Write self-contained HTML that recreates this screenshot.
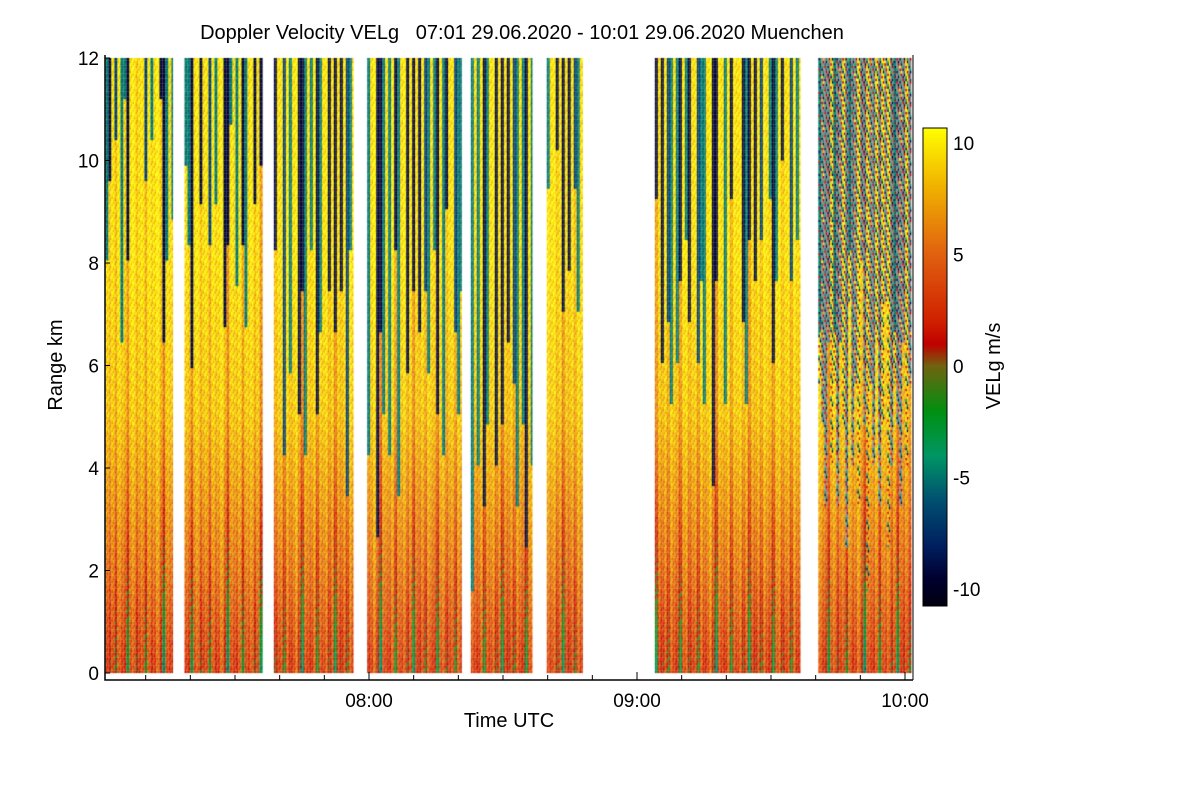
<!DOCTYPE html>
<html><head><meta charset="utf-8"><style>
body{margin:0;background:#fff;font-family:"Liberation Sans",sans-serif}
#wrap{position:relative;width:1200px;height:800px}
canvas,svg{position:absolute;left:0;top:0}
</style></head><body>
<div id="wrap">
<canvas id="cv" width="1200" height="800"></canvas>
<svg id="sv" width="1200" height="800"></svg>
</div>
<script>
// data: segments in minutes after 07:00 [start, end], echo top km
const segStart=[1,18.7,38.7,59.6,82.8,99.8,124,160.6];
const segEnd=[16,36,56.4,80.8,96.5,107.9,156.6,181.4];
const segTop=[8,7.5,5,5,4,7,6,5];
const segNoisy=[0,0,0,0,0,0,0,1];
const stripeOffsets=[0,-2,1,-4,2,0,-1,-7,1,2,-3,0,1,-5,2,-1,0,3,-2,-9,1,0,-1,2,-6,1,0,2,-3,1,-8];
const topJitter=[0,2,-1,3,1,-2,4,0,2,-1,5,1,-3,2,0,3,-1,1,4,-2,0,2,1,-1,3];
const xTicks=["08:00","09:00","10:00"];const xTickMin=[60,120,180];
const yTicks=[0,2,4,6,8,10,12];
const cbTicks=[10,5,0,-5,-10];
const vmin=-10.7,vmax=10.7;

const X=m=>369+(m-60)*268/60;
const Y=km=>673-km*51.25;
const CB=v=>366-v*22.3;
const stops=[[-10.7,[0,0,16]],[-9.5,[0,0,48]],[-8,[0,32,96]],[-6,[0,80,112]],[-4,[0,150,100]],[-2,[0,144,16]],[0,[112,100,16]],[1,[192,0,0]],[2,[208,32,0]],[5,[224,96,16]],[8,[240,176,0]],[10.7,[255,255,0]]];
function col(v){v=Math.max(vmin,Math.min(vmax,v));for(let i=1;i<stops.length;i++){if(v<=stops[i][0]){const a=stops[i-1],b=stops[i],t=(v-a[0])/(b[0]-a[0]);return `rgb(${a[1].map((c,k)=>Math.round(c+(b[1][k]-c)*t)).join(',')})`;}}return 'rgb(255,255,0)';}
function base(km){return km<2?2.8+km*1.4:km<5?5.6+(km-2)*1.0:Math.min(9.5,8.6+(km-5)*0.3);}
const cv=document.getElementById('cv'),ctx=cv.getContext('2d');
for(let s=0;s<segStart.length;s++){
  const x0=X(segStart[s]),x1=X(segEnd[s]);let ci=0;
  for(let x=x0;x<x1-0.5;x+=1.5,ci++){
    const g=Math.floor(ci/2);
    const off=stripeOffsets[(g+s*5)%stripeOffsets.length];
    const dark=off<=-1||(g%5==0);
    const top=segTop[s]+topJitter[(g+s*3)%topJitter.length]*0.8;
    let k=0;
    for(let km=0;km<12;km+=0.05,k++){
      const w=(((ci*7+k*3)%11)-5)*0.3;
      const lowF=Math.max(0,1-km/5);
      let v=base(km)+off*(0.3+0.5*lowF)+w;
      let c=null;
      if(km>top&&dark){v=(off<-5)?-9.5:(off<-3?-7:(off<-1?-9.5:-5))+w*0.5;}
      if(segNoisy[s]&&km>top-1){const p=(ci*5+k*7)%9;
        if(!(off>=1))c=p<5?'#8a8a88':null;
        if(p==8)v=-9;else if(p==7)v=1;else if(p==6)v=-4;}
      ctx.fillStyle=c||col(v);
      ctx.fillRect(x,Y(km)-2.6,1.6,2.7);
    }
  }
}
// colorbar
for(let y=128;y<606;y++){ctx.fillStyle=col((366-y)/22.3);ctx.fillRect(923,y,24,1);}
const sv=document.getElementById('sv');const NS='http://www.w3.org/2000/svg';
function el(t,a,txt){const e=document.createElementNS(NS,t);for(const k in a)e.setAttribute(k,a[k]);if(txt!==undefined)e.textContent=txt;sv.appendChild(e);return e;}
let e;
e=el('rect',{x:923,y:128,width:24,height:478,fill:'none',stroke:'#000'});


e=el('path',{d:'M105 55V680H913',fill:'none',stroke:'#000','stroke-width':1.5});


e=el('line',{x1:913,y1:55,x2:913,y2:680,stroke:'#000'});


for(let m=10;m<=180;m+=10){e=el('line',{x1:X(m),y1:680,x2:X(m),y2:m%60?675:672,stroke:'#000'});

}
xTicks.forEach((t,i)=>{e=el('text',{x:X(xTickMin[i]),y:707,'text-anchor':'middle','font-size':19},t);

});
yTicks.forEach(v=>{e=el('text',{x:99,y:Y(v)+7,'text-anchor':'end','font-size':19},v);


e=el('line',{x1:105,y1:Y(v),x2:110,y2:Y(v),stroke:'#000'});

});
cbTicks.forEach(v=>{e=el('text',{x:953,y:CB(v)+7,'font-size':19},v);

});
e=el('text',{x:509,y:727,'text-anchor':'middle','font-size':20},'Time UTC');


e=el('text',{x:62,y:365,'text-anchor':'middle','font-size':20,transform:'rotate(-90 62 365)'},'Range km');


e=el('text',{x:1000,y:366,'text-anchor':'middle','font-size':20,transform:'rotate(-90 1000 366)'},'VELg m/s');


e=el('text',{x:522,y:39,'text-anchor':'middle','font-size':20,style:'white-space:pre'},'Doppler Velocity VELg   07:01 29.06.2020 - 10:01 29.06.2020 Muenchen');


</script>
</body></html>
